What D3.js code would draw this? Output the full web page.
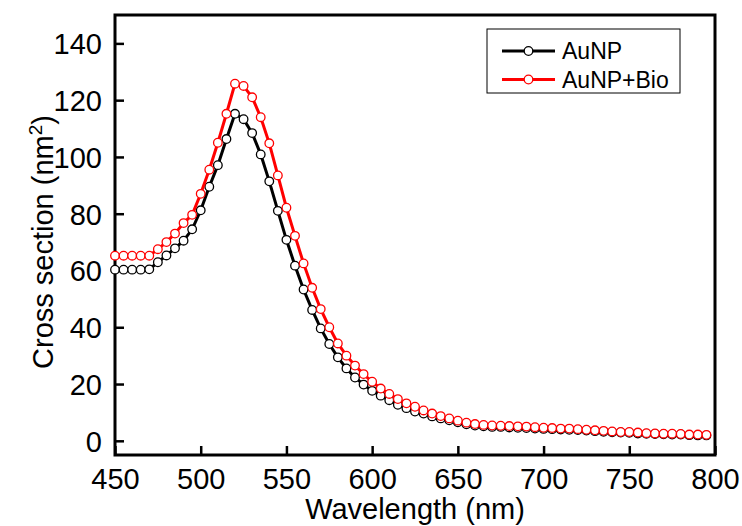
<!DOCTYPE html>
<html lang="en">
<head>
    <meta charset="UTF-8">
    <title>Cross section vs wavelength</title>
    <style>
        body { margin: 0; background: #fff; }
        svg { display: block; font-family: "Liberation Sans", Arial, sans-serif; }
        .tick-label { font-size: 29px; fill: #000; }
        .axis-title { font-size: 29px; fill: #000; }
        .legend-text { font-size: 23px; fill: #000; }
    </style>
</head>
<body>
    <div id="chart"></div>

    <script src="https://d3js.org/d3.v7.min.js"></script>
    <script>
        // Chart size
        const width = 742;
        const height = 526;
        const margin = { top: 15, right: 27, bottom: 71, left: 115 };

        // Data (5 nm steps)
        const wavelength = [
            450, 455, 460, 465, 470, 475, 480, 485, 490, 495,
            500, 505, 510, 515, 520, 525, 530, 535, 540, 545,
            550, 555, 560, 565, 570, 575, 580, 585, 590, 595,
            600, 605, 610, 615, 620, 625, 630, 635, 640, 645,
            650, 655, 660, 665, 670, 675, 680, 685, 690, 695,
            700, 705, 710, 715, 720, 725, 730, 735, 740, 745,
            750, 755, 760, 765, 770, 775, 780, 785, 790, 795
        ];
        const aunp = [
            60.3, 60.3, 60.3, 60.3, 60.4, 62.9, 65.3, 67.8, 70.5, 74.5,
            81.2, 89.5, 97.1, 106.3, 115.2, 113.3, 108.4, 100.9, 91.4, 81.0,
            70.8, 61.7, 53.3, 46.1, 39.6, 34.1, 29.4, 25.5, 22.3, 19.8,
            17.6, 15.9, 14.3, 12.7, 11.5, 10.3, 9.6, 8.6, 7.9, 7.2,
            6.5, 5.8, 5.4, 5.1, 4.9, 4.9, 4.7, 4.6, 4.5, 4.3,
            4.2, 4.1, 4.0, 3.9, 3.8, 3.6, 3.4, 3.2, 3.0, 2.9,
            2.8, 2.6, 2.5, 2.4, 2.3, 2.2, 2.2, 2.0, 1.9, 1.9
        ];
        const aunpBio = [
            65.2, 65.2, 65.2, 65.2, 65.2, 67.5, 70.0, 73.0, 76.7, 79.6,
            87.0, 95.5, 105.0, 115.2, 125.8, 125.0, 121.0, 114.0, 104.8, 93.5,
            82.1, 72.2, 62.5, 53.9, 46.4, 40.0, 34.3, 30.0, 26.5, 23.5,
            20.8, 18.4, 16.5, 14.7, 13.2, 12.0, 10.7, 9.6, 8.7, 7.9,
            7.1, 6.4, 5.9, 5.6, 5.4, 5.3, 5.2, 5.1, 5.0, 4.8,
            4.6, 4.5, 4.3, 4.3, 4.1, 3.9, 3.7, 3.5, 3.3, 3.1,
            3.1, 2.9, 2.7, 2.6, 2.5, 2.5, 2.4, 2.2, 2.2, 2.1
        ];
        const xTicks = [450, 500, 550, 600, 650, 700, 750, 800];
        const yTicks = [0, 20, 40, 60, 80, 100, 120, 140];
        const seriesNames = ["AuNP", "AuNP+Bio"];
        const seriesColors = ["#000000", "#ff0000"];

        const svg = d3.select("#chart")
            .append("svg")
            .attr("width", width)
            .attr("height", height);

        const x = d3.scaleLinear()
            .domain([450, 800])
            .range([margin.left, width - margin.right]);

        const y = d3.scaleLinear()
            .domain([-5, 150])
            .range([height - margin.bottom, margin.top]);

        // Axes with inward ticks
        const xAxis = svg.append("g")
            .attr("transform", `translate(0,${height - margin.bottom})`)
            .call(d3.axisBottom(x).tickValues(xTicks).tickSize(-9));

        const yAxis = svg.append("g")
            .attr("transform", `translate(${margin.left},0)`)
            .call(d3.axisLeft(y).tickValues(yTicks).tickSize(-9));

        [xAxis, yAxis].forEach(g => {
            g.select(".domain").remove();
            g.selectAll(".tick line").attr("stroke", "#000").attr("stroke-width", 2.5);
            g.selectAll(".tick text")
                .attr("class", "tick-label")
                .attr("font-size", null)
                .attr("font-family", null);
        });
        xAxis.selectAll(".tick text").attr("y", 34).attr("dy", null);
        yAxis.selectAll(".tick text").attr("x", -13).attr("dy", "0.36em");

        // Frame
        svg.append("rect")
            .attr("x", margin.left)
            .attr("y", margin.top)
            .attr("width", width - margin.left - margin.right)
            .attr("height", height - margin.top - margin.bottom)
            .attr("fill", "none")
            .attr("stroke", "#000")
            .attr("stroke-width", 3);

        // Axis titles
        svg.append("text")
            .attr("class", "axis-title")
            .attr("x", (margin.left + width - margin.right) / 2)
            .attr("y", 519)
            .attr("text-anchor", "middle")
            .text("Wavelength (nm)");

        const yTitle = svg.append("text")
            .attr("class", "axis-title")
            .attr("transform", "translate(53,242) rotate(-90)")
            .attr("text-anchor", "middle");
        yTitle.append("tspan").text("Cross section (nm");
        yTitle.append("tspan").attr("dy", -11).attr("font-size", 19).text("2");
        yTitle.append("tspan").attr("dy", 11).text(")");

        // Series
        const series = [aunp, aunpBio];
        const line = d3.line()
            .x((d, i) => x(wavelength[i]))
            .y(d => y(d));

        series.forEach((vals, k) => {
            svg.append("path")
                .datum(vals)
                .attr("d", line)
                .attr("fill", "none")
                .attr("stroke", seriesColors[k])
                .attr("stroke-width", 3);

            svg.append("g")
                .selectAll("circle")
                .data(vals)
                .join("circle")
                .attr("cx", (d, i) => x(wavelength[i]))
                .attr("cy", d => y(d))
                .attr("r", 4.3)
                .attr("fill", "#fff")
                .attr("stroke", seriesColors[k])
                .attr("stroke-width", 1.3);
        });

        // Legend
        const legend = svg.append("g").attr("transform", "translate(487,29)");
        legend.append("rect")
            .attr("width", 193)
            .attr("height", 64)
            .attr("fill", "#fff")
            .attr("stroke", "#000")
            .attr("stroke-width", 1);

        seriesNames.forEach((name, k) => {
            const row = legend.append("g").attr("transform", `translate(0,${22 + k * 28.5})`);
            row.append("line")
                .attr("x1", 15).attr("x2", 68)
                .attr("stroke", seriesColors[k])
                .attr("stroke-width", 3);
            row.append("circle")
                .attr("cx", 41.5)
                .attr("r", 4.3)
                .attr("fill", "#fff")
                .attr("stroke", seriesColors[k])
                .attr("stroke-width", 1.3);
            row.append("text")
                .attr("class", "legend-text")
                .attr("x", 75)
                .attr("dy", "0.36em")
                .text(name);
        });
    </script>
</body>
</html>
